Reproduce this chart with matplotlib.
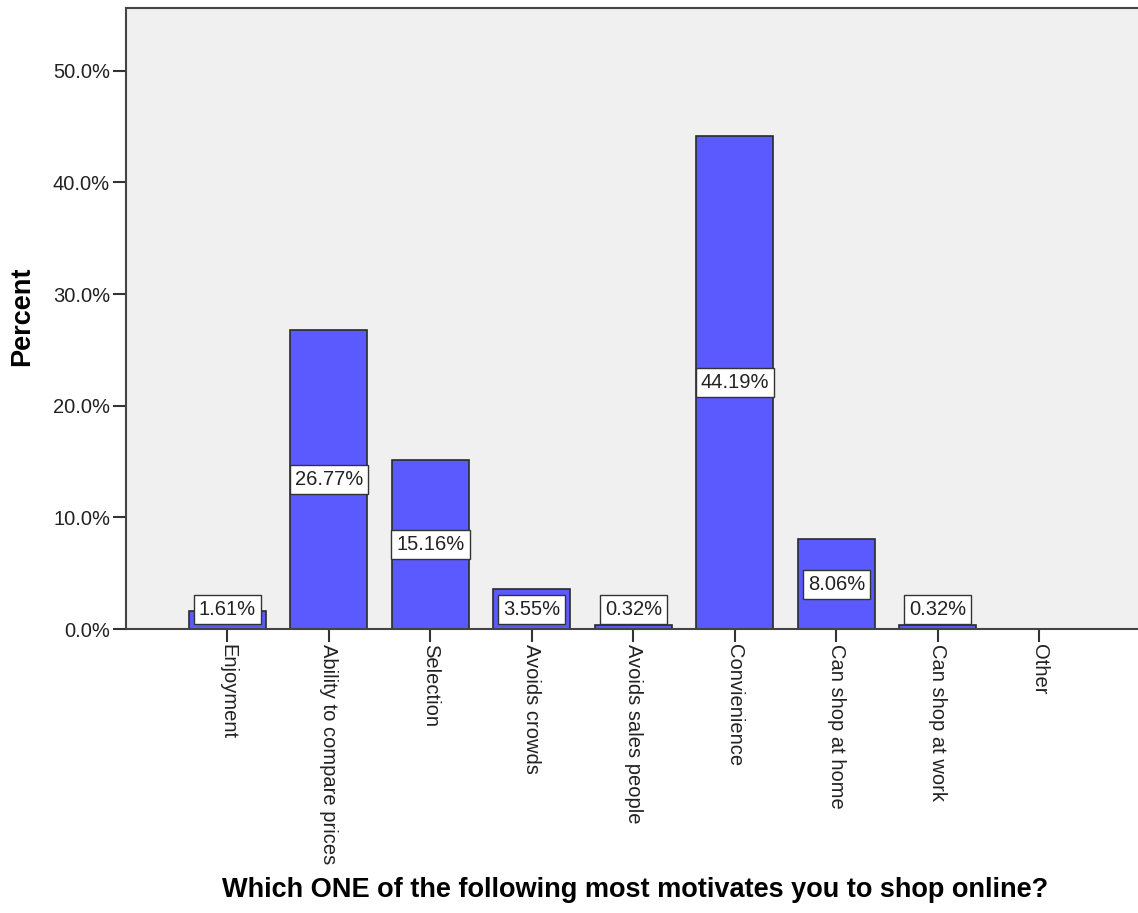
import matplotlib
matplotlib.use("Agg")
import matplotlib.pyplot as plt
import numpy as np

categories = ["Enjoyment", "Ability to compare prices", "Selection", "Avoids crowds",
              "Avoids sales people", "Convienience", "Can shop at home", "Can shop at work", "Other"]
percent = [1.61, 26.77, 15.16, 3.55, 0.32, 44.19, 8.06, 0.32, 0.0]
labels = ["1.61%", "26.77%", "15.16%", "3.55%", "0.32%", "44.19%", "8.06%", "0.32%", None]
yticks = [0, 10, 20, 30, 40, 50]

plt.rcParams['font.family'] = ['Liberation Sans', 'DejaVu Sans']

fig = plt.figure(figsize=(11.38, 9.13), dpi=100)
ax = fig.add_axes([0.1107, 0.311, 0.889, 0.680])
ax.set_facecolor("#f0f0f0")

x = np.arange(len(categories))
ax.bar(x, percent, width=0.76, color="#5a5aff", edgecolor="#2a2a2a", linewidth=1.2, zorder=2)

for xi, v, lab in zip(x, percent, labels):
    if lab is None:
        continue
    y = max(v / 2, 1.75)
    ax.text(xi, y, lab, ha="center", va="center", fontsize=14.5, color="#222222", zorder=3,
            bbox=dict(boxstyle="square,pad=0.25", facecolor="white", edgecolor="#333333", linewidth=1.0))

ax.set_xlim(-1.0, 8.97)
ax.set_ylim(0, 55.6)
ax.set_yticks(yticks)
ax.set_yticklabels([f"{t:.1f}%" for t in yticks], fontsize=14.5, color="#222222")
ax.set_xticks(x)
ax.set_xticklabels(categories, rotation=270, fontsize=14.5, color="#222222", va="top", ha="center")
ax.tick_params(axis="both", direction="out", length=9.5, width=1.5, color="#333333")
ax.tick_params(axis="x", pad=1)
ax.tick_params(axis="y", pad=2)

ax.spines["right"].set_visible(False)
for s in ["left", "top", "bottom"]:
    ax.spines[s].set_color("#444444")
    ax.spines[s].set_linewidth(1.5)

fig.text(0.0195, 0.654, "Percent", rotation=90, ha="center", va="center", fontsize=19.5, fontweight="bold")
fig.text(0.558, 0.025, "Which ONE of the following most motivates you to shop online?",
         ha="center", va="center", fontsize=19.5, fontweight="bold")

fig.savefig("out.png", dpi=100, facecolor="white")
